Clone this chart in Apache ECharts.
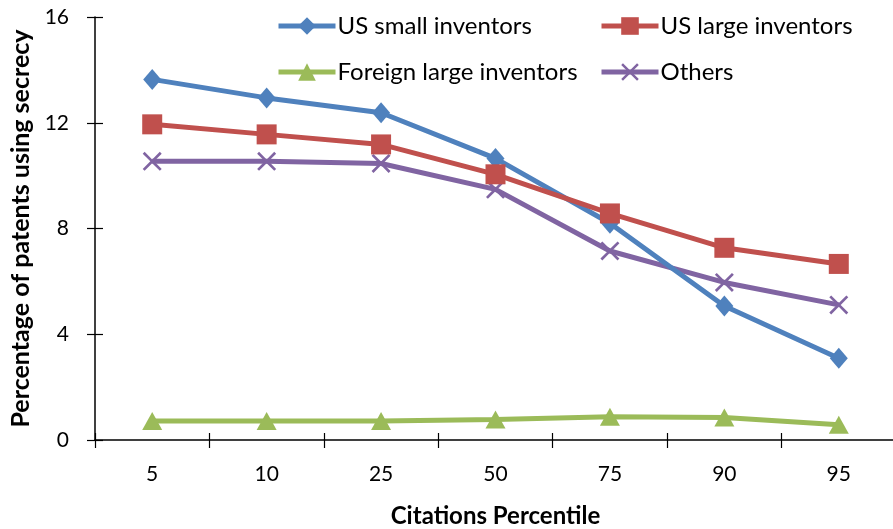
<!DOCTYPE html>
<html>
<head>
<meta charset="utf-8">
<script src="https://cdn.jsdelivr.net/npm/echarts@6/dist/echarts.min.js"></script>
<style>
html,body{margin:0;padding:0;background:#fff;}
#chart{width:893px;height:529px;}
</style>
</head>
<body>
<div id="chart"></div>
<script>
var categories = ['5', '10', '25', '50', '75', '90', '95'];
var usSmall = [13.64, 12.94, 12.38, 10.65, 8.2, 5.07, 3.09];
var usLarge = [11.94, 11.56, 11.18, 10.05, 8.57, 7.27, 6.66];
var foreignLarge = [0.72, 0.72, 0.72, 0.78, 0.88, 0.85, 0.58];
var others = [10.54, 10.54, 10.46, 9.48, 7.15, 5.96, 5.11];
var seriesNames = ['US small inventors', 'US large inventors', 'Foreign large inventors', 'Others'];
var yTicks = [0, 4, 8, 12, 16];

var FONT = 'Lato, "Open Sans", sans-serif';
var xPath = 'path://M0,1L1,0L5,4L9,0L10,1L6,5L10,9L9,10L5,6L1,10L0,9L4,5Z';

var chart = echarts.init(document.getElementById('chart'), null, {renderer: 'canvas'});

function legendAt(name, left, top) {
  return {
    data: [name], left: left, top: top, orient: 'horizontal',
    itemWidth: 57, itemHeight: 22, itemGap: 0, padding: 0,
    lineStyle: {width: 5},
    textStyle: {fontFamily: FONT, fontSize: 24, color: '#000', padding: [0, 0, 0, -3]},
    selectedMode: false
  };
}

var option = {
  animation: false,
  backgroundColor: '#fff',
  grid: {left: 95, top: 17, right: -3, bottom: 89, containLabel: false, outerBoundsMode: 'none'},
  legend: [
    legendAt(seriesNames[0], 276, 14),
    legendAt(seriesNames[1], 599, 14),
    legendAt(seriesNames[2], 276, 60),
    legendAt(seriesNames[3], 599, 60)
  ],
  xAxis: [{
    type: 'category', data: categories, boundaryGap: true,
    axisLine: {lineStyle: {color: '#000', width: 1.5}},
    axisTick: {show: true, inside: false, length: 8, lineStyle: {color: '#000', width: 1.2}},
    axisLabel: {fontFamily: FONT, fontSize: 21, color: '#000', margin: 24},
    name: 'Citations Percentile', nameLocation: 'middle', nameGap: 64,
    nameTextStyle: {fontFamily: FONT, fontSize: 24, fontWeight: 'bold', color: '#000'},
    splitLine: {show: false}
  }, {
    type: 'category', data: categories, boundaryGap: true, position: 'bottom',
    axisLine: {show: false},
    axisTick: {show: true, inside: true, length: 7, lineStyle: {color: '#000', width: 1.2}},
    axisLabel: {show: false}, splitLine: {show: false}
  }],
  yAxis: [{
    type: 'value', min: yTicks[0], max: yTicks[yTicks.length - 1], interval: 4,
    axisLine: {show: true, lineStyle: {color: '#000', width: 1.5}},
    axisTick: {show: true, inside: false, length: 8, lineStyle: {color: '#000', width: 1.2}},
    axisLabel: {fontFamily: FONT, fontSize: 21, color: '#000', margin: 26},
    splitLine: {show: false},
    name: 'Percentage of patents using secrecy', nameLocation: 'middle', nameGap: 54,
    nameTextStyle: {fontFamily: FONT, fontSize: 25, fontWeight: 'bold', color: '#000'}
  }, {
    type: 'value', min: yTicks[0], max: yTicks[yTicks.length - 1], interval: 4, position: 'left',
    axisLine: {show: false},
    axisTick: {show: true, inside: true, length: 8, lineStyle: {color: '#000', width: 1.2}},
    axisLabel: {show: false}, splitLine: {show: false}
  }],
  series: [
    {name: seriesNames[0], type: 'line', data: usSmall, symbol: 'diamond', symbolSize: [18, 21],
     lineStyle: {color: '#4F81BD', width: 5}, itemStyle: {color: '#4F81BD'}, z: 4},
    {name: seriesNames[1], type: 'line', data: usLarge, symbol: 'rect', symbolSize: 20,
     lineStyle: {color: '#C0504D', width: 5}, itemStyle: {color: '#C0504D'}, z: 5},
    {name: seriesNames[2], type: 'line', data: foreignLarge, symbol: 'triangle', symbolSize: [20, 18],
     lineStyle: {color: '#9BBB59', width: 5}, itemStyle: {color: '#9BBB59'}, z: 3},
    {name: seriesNames[3], type: 'line', data: others, symbol: xPath, symbolSize: 19,
     lineStyle: {color: '#8064A2', width: 5}, itemStyle: {color: '#8064A2'}, z: 3}
  ]
};
chart.setOption(option);
</script>
</body>
</html>
